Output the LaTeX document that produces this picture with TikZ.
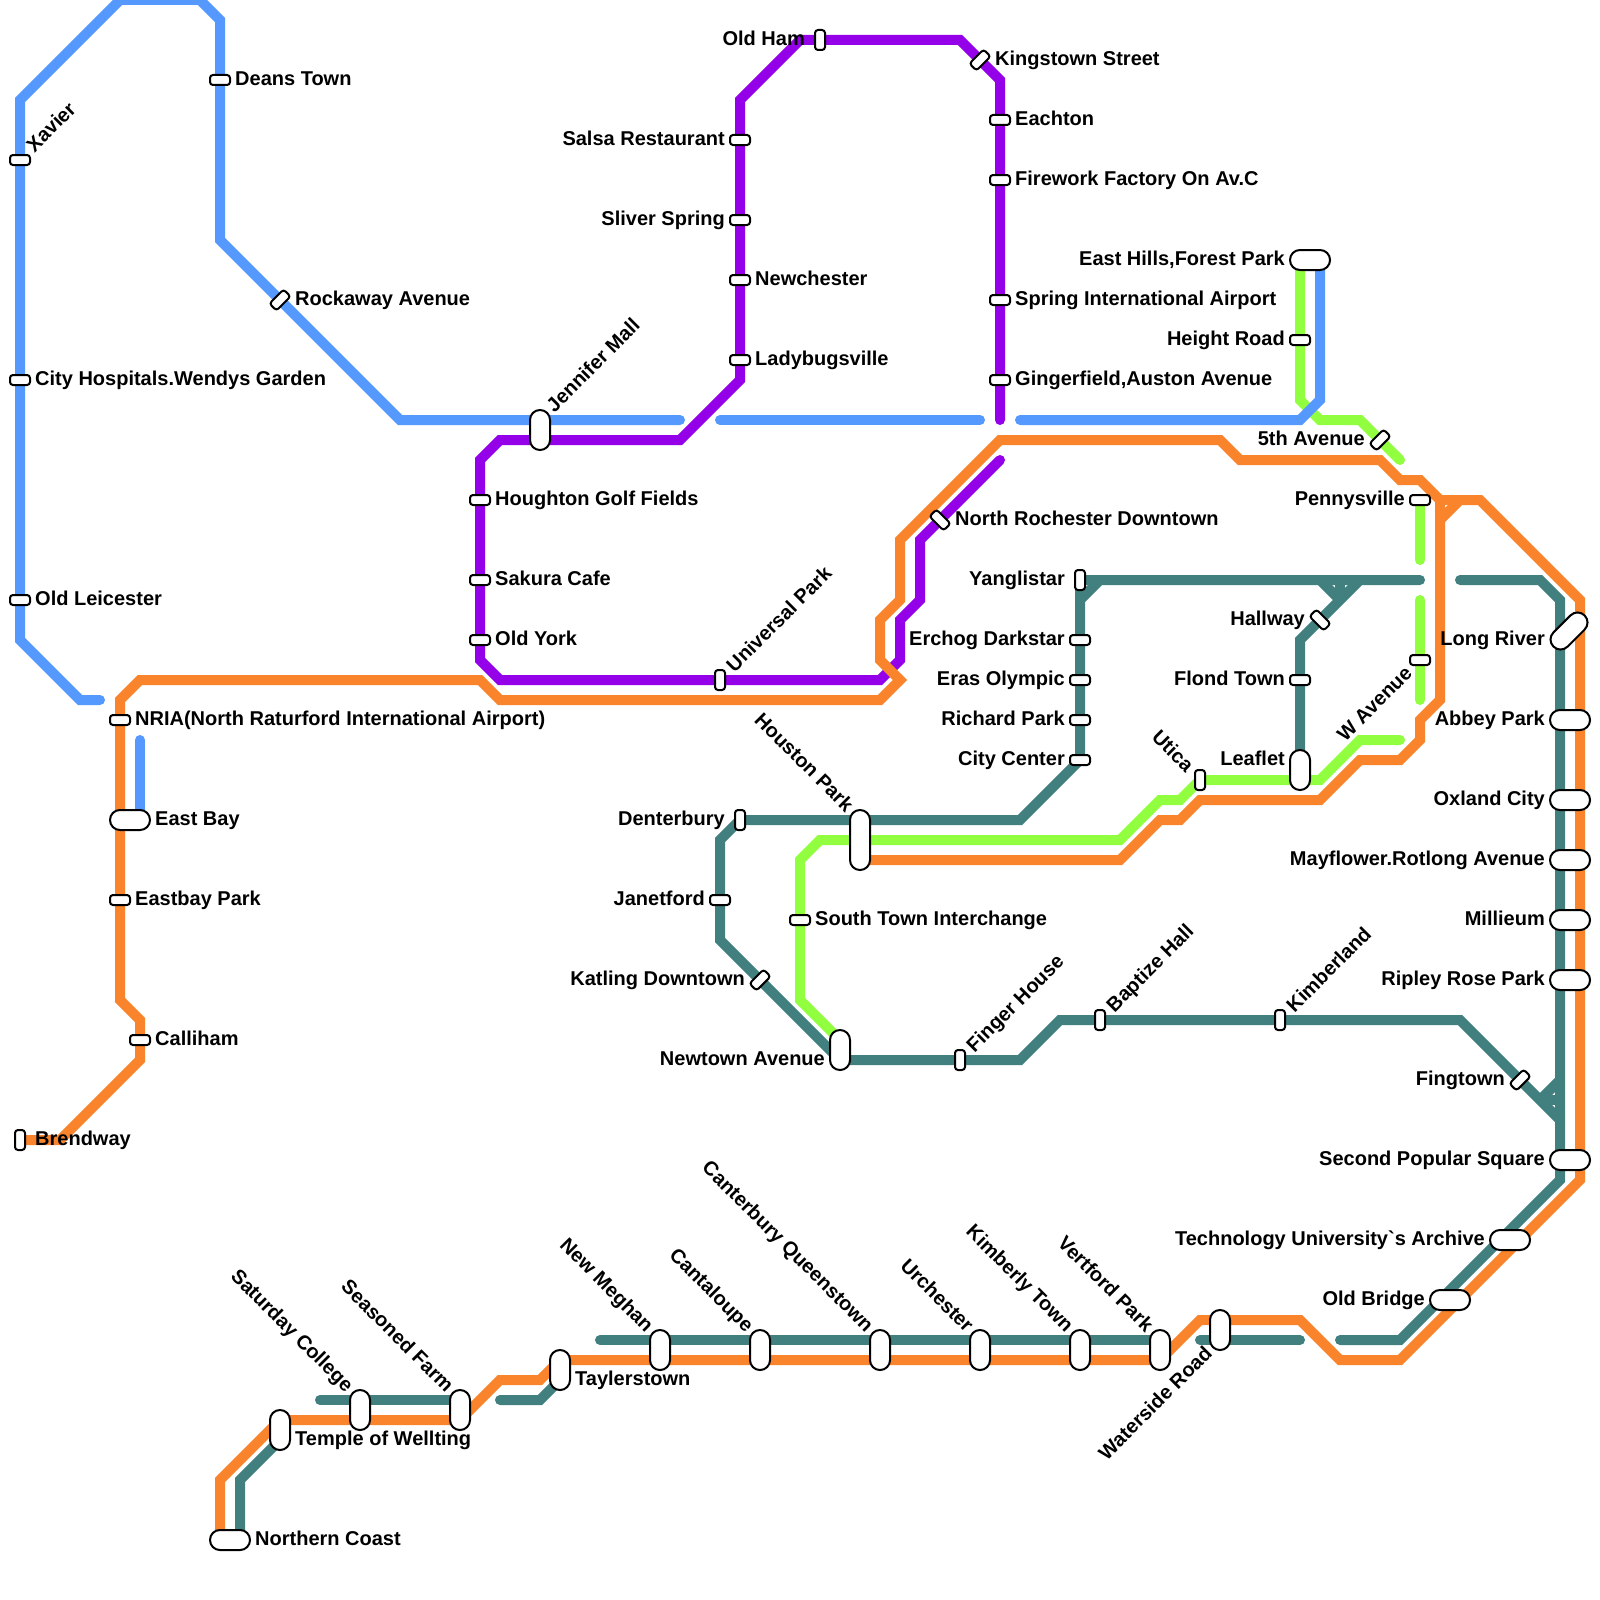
\documentclass[tikz,border=0pt]{standalone}
\usepackage{fontspec}
\setmainfont{Liberation Sans}
\definecolor{lblue}{HTML}{5599FF}
\definecolor{lpurple}{HTML}{9400E8}
\definecolor{lgreen}{HTML}{91FF3F}
\definecolor{lteal}{HTML}{428080}
\definecolor{lorange}{HTML}{F9842C}
\tikzset{
  line/.style={line width=10pt,line cap=round,line join=miter,miter limit=10},
  base st/.style={draw=black,fill=white,line width=2pt,rectangle,inner sep=0pt,outer sep=0pt},
  sh/.style={base st,minimum width=20pt,minimum height=10pt,rounded corners=3pt},
  sv/.style={base st,minimum width=10pt,minimum height=20pt,rounded corners=3pt},
  bh/.style={base st,minimum width=40pt,minimum height=20pt,rounded corners=9.9pt},
  bv/.style={base st,minimum width=20pt,minimum height=40pt,rounded corners=9.9pt},
  lr/.style={anchor=base west,inner sep=0pt,yshift=-1pt,font=\bfseries\fontsize{20}{24}\selectfont},
  ll/.style={anchor=base east,inner sep=0pt,yshift=-1pt,font=\bfseries\fontsize{20}{24}\selectfont},
  upw/.style={anchor=base west,inner sep=0pt,xshift=.7pt,yshift=-.7pt,rotate=45,font=\bfseries\fontsize{20}{24}\selectfont},
  upe/.style={anchor=base east,inner sep=0pt,xshift=.7pt,yshift=-.7pt,rotate=45,font=\bfseries\fontsize{20}{24}\selectfont},
  dne/.style={anchor=base east,inner sep=0pt,xshift=-.7pt,yshift=-.7pt,rotate=-45,font=\bfseries\fontsize{20}{24}\selectfont},
}
\begin{document}
\begin{tikzpicture}[x=1pt,y=-1pt]
\useasboundingbox (0,0) rectangle (1600,1600);
\fill[white] (0,0) rectangle (1600,1600);
\clip (0,0) rectangle (1600,1600);
% purple
\draw[line,lpurple] (1000,420)--(1000,80)--(960,40)--(800,40)--(740,100)--(740,380)--(680,440)--(500,440)--(480,460)--(480,660)--(500,680)--(880,680)--(900,660)--(900,620)--(920,600)--(920,540)--(1000,460);
% green
\draw[line,lgreen] (1300,260)--(1300,400)--(1320,420)--(1360,420)--(1400,460);
\draw[line,lgreen] (1420,500)--(1420,560);
\draw[line,lgreen] (1420,600)--(1420,700);
\draw[line,lgreen] (1400,740)--(1360,740)--(1320,780)--(1200,780)--(1180,800)--(1160,800)--(1120,840)--(820,840)--(800,860)--(800,1000)--(840,1040);
% blue
\draw[line,lblue] (100,700)--(80,700)--(20,640)--(20,100)--(120,0)--(200,0)--(220,20)--(220,240)--(400,420)--(680,420);
\draw[line,lblue] (720,420)--(980,420);
\draw[line,lblue] (1020,420)--(1300,420)--(1320,400)--(1320,260);
\draw[line,lblue] (140,740)--(140,820);
% teal
\draw[line,lteal] (1420,580)--(1100,580)--(1080,600)--(1080,760)--(1020,820)--(740,820)--(720,840)--(720,940)--(840,1060)--(1020,1060)--(1060,1020)--(1460,1020)--(1560,1120);
\draw[line,lteal,line cap=butt] (1080,580)--(1100,580);
\draw[line,lteal,line cap=butt] (1080,575)--(1080,600);
\draw[line,lteal] (1460,580)--(1540,580)--(1560,600)--(1560,1180)--(1400,1340)--(1340,1340);
\draw[line,lteal,line cap=butt] (1540,1100)--(1560,1080);
\draw[line,lteal,line cap=butt] (1540,1100)--(1560,1100);
\draw[line,lteal] (1300,760)--(1300,640)--(1360,580);
\draw[line,lteal,line cap=butt] (1320,580)--(1340,600);
\draw[line,lteal,line cap=butt] (1340,580)--(1340,600);
\draw[line,lteal] (1300,1340)--(1200,1340);
\draw[line,lteal] (1160,1340)--(600,1340);
\draw[line,lteal] (500,1400)--(540,1400)--(560,1380);
\draw[line,lteal] (460,1400)--(320,1400);
\draw[line,lteal] (280,1440)--(240,1480)--(240,1540);
% orange
\draw[line,lorange] (20,1140)--(60,1140)--(140,1060)--(140,1020)--(120,1000)--(120,700)--(140,680)--(480,680)--(500,700)--(880,700)--(900,680)--(880,660)--(880,620)--(900,600)--(900,540)--(1000,440)--(1220,440)--(1240,460)--(1380,460)--(1400,480)--(1420,480)--(1440,500)--(1440,700)--(1420,720)--(1420,740)--(1400,760)--(1360,760)--(1320,800)--(1200,800)--(1180,820)--(1160,820)--(1120,860)--(860,860);
\draw[line,lorange,line cap=butt] (1440,520)--(1460,500)--(1480,500)--(1580,600)--(1580,1180)--(1400,1360)--(1340,1360)--(1300,1320)--(1200,1320)--(1160,1360)--(560,1360)--(540,1380)--(500,1380)--(460,1420)--(280,1420)--(220,1480)--(220,1540);
\draw[line,lorange,line cap=butt] (1440,500)--(1470,500);
% stations
\node[sh] (xavier) at (20,160) {};
\node[sh] (deans) at (220,80) {};
\node[sh,rotate=45] (rockaway) at (280,300) {};
\node[sh] (cityhosp) at (20,380) {};
\node[sh] (oldleic) at (20,600) {};
\node[sh] (nria) at (120,720) {};
\node[bh] (eastbay) at (130,820) {};
\node[sh] (eastbaypark) at (120,900) {};
\node[sh] (calliham) at (140,1040) {};
\node[sv] (brendway) at (20,1140) {};
\node[sv] (oldham) at (820,40) {};
\node[sh,rotate=45] (kingstown) at (980,60) {};
\node[sh] (eachton) at (1000,120) {};
\node[sh] (firework) at (1000,180) {};
\node[sh] (spring) at (1000,300) {};
\node[sh] (gingerfield) at (1000,380) {};
\node[sh] (salsa) at (740,140) {};
\node[sh] (sliver) at (740,220) {};
\node[sh] (newchester) at (740,280) {};
\node[sh] (ladybugs) at (740,360) {};
\node[bv] (jennifer) at (540,430) {};
\node[sh] (houghton) at (480,500) {};
\node[sh] (sakura) at (480,580) {};
\node[sh] (oldyork) at (480,640) {};
\node[sv] (universal) at (720,680) {};
\node[sh,rotate=-45] (northroch) at (940,520) {};
\node[bh] (easthills) at (1310,260) {};
\node[sh] (height) at (1300,340) {};
\node[sh,rotate=45] (fifth) at (1380,440) {};
\node[sh] (penny) at (1420,500) {};
\node[sh] (wave) at (1420,660) {};
\node[bh,rotate=45,minimum width=44pt] (longriver) at (1569,631) {};
\node[bh] (abbey) at (1570,720) {};
\node[bh] (oxland) at (1570,800) {};
\node[bh] (mayflower) at (1570,860) {};
\node[bh] (millieum) at (1570,920) {};
\node[bh] (ripley) at (1570,980) {};
\node[bh] (second) at (1570,1160) {};
\node[bh] (techuni) at (1510,1240) {};
\node[bh] (oldbridge) at (1450,1300) {};
\node[sv] (yanglistar) at (1080,580) {};
\node[sh] (erchog) at (1080,640) {};
\node[sh] (eras) at (1080,680) {};
\node[sh] (richard) at (1080,720) {};
\node[sh] (citycenter) at (1080,760) {};
\node[sh,rotate=-45] (hallway) at (1320,620) {};
\node[sh] (flond) at (1300,680) {};
\node[bv] (leaflet) at (1300,770) {};
\node[sv] (utica) at (1200,780) {};
\node[sv] (denterbury) at (740,820) {};
\node[sh] (janetford) at (720,900) {};
\node[sh,rotate=45] (katling) at (760,980) {};
\node[base st,minimum width=20pt,minimum height=60pt,rounded corners=9.9pt] (houston) at (860,840) {};
\node[sh] (southtown) at (800,920) {};
\node[bv] (newtown) at (840,1050) {};
\node[sv] (finger) at (960,1060) {};
\node[sv] (baptize) at (1100,1020) {};
\node[sv] (kimberland) at (1280,1020) {};
\node[sh,rotate=45] (fingtown) at (1520,1080) {};
\node[bv] (taylers) at (560,1370) {};
\node[bv] (meghan) at (660,1350) {};
\node[bv] (cantaloupe) at (760,1350) {};
\node[bv] (canterbury) at (880,1350) {};
\node[bv] (urchester) at (980,1350) {};
\node[bv] (kimberly) at (1080,1350) {};
\node[bv] (vertford) at (1160,1350) {};
\node[bv] (waterside) at (1220,1330) {};
\node[bv] (seasoned) at (460,1410) {};
\node[bv] (saturday) at (360,1410) {};
\node[bv] (temple) at (280,1430) {};
\node[bh] (northern) at (230,1540) {};
% labels, right
\node[lr] (deansL) at (235,84.5) {Deans Town};
\node[lr] (rockawayL) at (295,304.5) {Rockaway Avenue};
\node[lr] (cityhospL) at (35,384.5) {City Hospitals.Wendys Garden};
\node[lr] (oldleicL) at (35,604.5) {Old Leicester};
\node[lr] (nriaL) at (135,724.5) {NRIA(North Raturford International Airport)};
\node[lr] (eastbayL) at (155,824.5) {East Bay};
\node[lr] (eastbayparkL) at (135,904.5) {Eastbay Park};
\node[lr] (callihamL) at (155,1044.5) {Calliham};
\node[lr] (brendwayL) at (35,1144.5) {Brendway};
\node[lr] (kingstownL) at (995,64.5) {Kingstown Street};
\node[lr] (eachtonL) at (1015,124.5) {Eachton};
\node[lr] (fireworkL) at (1015,184.5) {Firework Factory On Av.C};
\node[lr] (springL) at (1015,304.5) {Spring International Airport};
\node[lr] (gingerfieldL) at (1015,384.5) {Gingerfield,Auston Avenue};
\node[lr] (newchesterL) at (755,284.5) {Newchester};
\node[lr] (ladybugsL) at (755,364.5) {Ladybugsville};
\node[lr] (houghtonL) at (495,504.5) {Houghton Golf Fields};
\node[lr] (sakuraL) at (495,584.5) {Sakura Cafe};
\node[lr] (oldyorkL) at (495,644.5) {Old York};
\node[lr] (northrochL) at (955,524.5) {North Rochester Downtown};
\node[lr] (southtownL) at (815,924.5) {South Town Interchange};
\node[lr] (northernL) at (255,1544.5) {Northern Coast};
\node[lr] (templeL) at (295,1444.5) {Temple of Wellting};
\node[lr] (taylersL) at (575,1384.5) {Taylerstown};
% labels, left
\node[ll] (oldhamL) at (805,44.5) {Old Ham};
\node[ll] (salsaL) at (725,144.5) {Salsa Restaurant};
\node[ll] (sliverL) at (725,224.5) {Sliver Spring};
\node[ll] (easthillsL) at (1285,264.5) {East Hills,Forest Park};
\node[ll] (heightL) at (1285,344.5) {Height Road};
\node[ll] (fifthL) at (1365,444.5) {5th Avenue};
\node[ll] (pennyL) at (1405,504.5) {Pennysville};
\node[ll] (longriverL) at (1545,644.5) {Long River};
\node[ll] (hallwayL) at (1305,624.5) {Hallway};
\node[ll] (flondL) at (1285,684.5) {Flond Town};
\node[ll] (leafletL) at (1285,764.5) {Leaflet};
\node[ll] (yanglistarL) at (1065,584.5) {Yanglistar};
\node[ll] (erchogL) at (1065,644.5) {Erchog Darkstar};
\node[ll] (erasL) at (1065,684.5) {Eras Olympic};
\node[ll] (richardL) at (1065,724.5) {Richard Park};
\node[ll] (citycenterL) at (1065,764.5) {City Center};
\node[ll] (denterburyL) at (725,824.5) {Denterbury};
\node[ll] (janetfordL) at (705,904.5) {Janetford};
\node[ll] (katlingL) at (745,984.5) {Katling Downtown};
\node[ll] (newtownL) at (825,1064.5) {Newtown Avenue};
\node[ll] (abbeyL) at (1545,724.5) {Abbey Park};
\node[ll] (oxlandL) at (1545,804.5) {Oxland City};
\node[ll] (mayflowerL) at (1545,864.5) {Mayflower.Rotlong Avenue};
\node[ll] (millieumL) at (1545,924.5) {Millieum};
\node[ll] (ripleyL) at (1545,984.5) {Ripley Rose Park};
\node[ll] (fingtownL) at (1505,1084.5) {Fingtown};
\node[ll] (secondL) at (1545,1164.5) {Second Popular Square};
\node[ll] (techuniL) at (1485,1244.5) {Technology University\textasciigrave s Archive};
\node[ll] (oldbridgeL) at (1425,1304.5) {Old Bridge};
% labels, rotated
\node[upw] (xavierL) at (33.8,152.6) {Xavier};
\node[upw] (jenniferL) at (553.8,412.6) {Jennifer Mall};
\node[upw] (universalL) at (733.8,672.6) {Universal Park};
\node[upw] (fingerL) at (973.8,1052.6) {Finger House};
\node[upw] (baptizeL) at (1113.8,1012.6) {Baptize Hall};
\node[upw] (kimberlandL) at (1293.8,1012.6) {Kimberland};
\node[upe] (waveL) at (1412.6,673.8) {W Avenue};
\node[upe] (watersideL) at (1212.6,1353.8) {Waterside Road};
\node[dne] (houstonL) at (846.2,812.6) {Houston Park};
\node[dne] (uticaL) at (1186.2,772.6) {Utica};
\node[dne] (saturdayL) at (346.2,1392.6) {Saturday College};
\node[dne] (seasonedL) at (446.2,1392.6) {Seasoned Farm};
\node[dne] (meghanL) at (646.2,1332.6) {New Meghan};
\node[dne] (cantaloupeL) at (746.2,1332.6) {Cantaloupe};
\node[dne] (canterburyL) at (866.2,1332.6) {Canterbury Queenstown};
\node[dne] (urchesterL) at (966.2,1332.6) {Urchester};
\node[dne] (kimberlyL) at (1066.2,1332.6) {Kimberly Town};
\node[dne] (vertfordL) at (1146.2,1332.6) {Vertford Park};
\end{tikzpicture}
\end{document}
